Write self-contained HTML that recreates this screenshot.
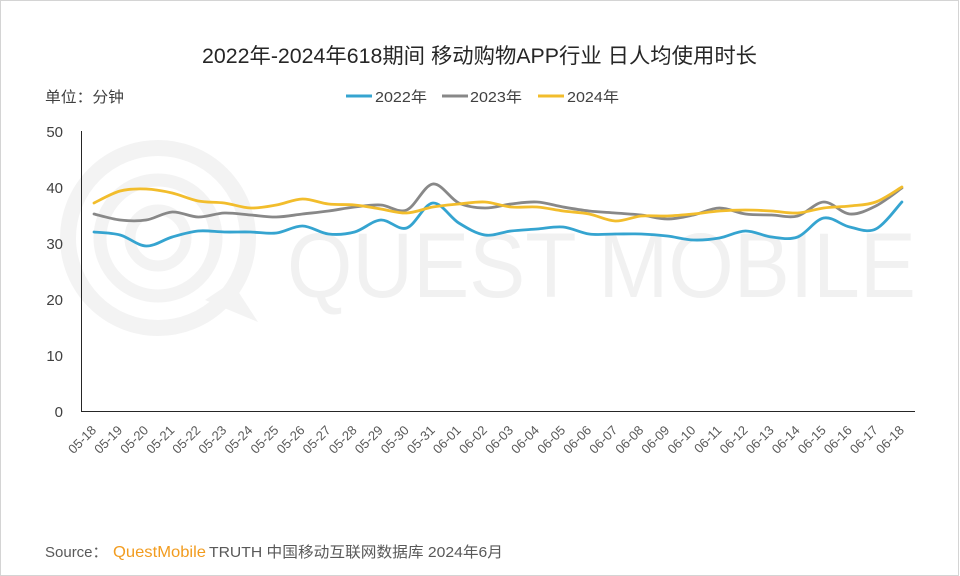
<!DOCTYPE html>
<html>
<head>
<meta charset="utf-8">
<style>
  html, body { margin: 0; padding: 0; background: #ffffff; }
  svg { display: block; }
  text { font-family: "Liberation Sans", "Noto Sans CJK SC", sans-serif; }
</style>
</head>
<body>
<svg id="chart" width="960" height="576" viewBox="0 0 960 576" xmlns="http://www.w3.org/2000/svg">
  <rect x="0" y="0" width="960" height="576" fill="#ffffff"/>
  <rect x="0.5" y="0.5" width="958" height="575" fill="none" stroke="#d4d4d4" stroke-width="1"/>

  <!-- watermark logo -->
  <g fill="none" stroke="#f3f3f3">
    <circle cx="158" cy="238" r="90" stroke-width="16"/>
    <circle cx="158" cy="238" r="58" stroke-width="13"/>
    <circle cx="158" cy="238" r="28" stroke-width="11"/>
  </g>
  <path d="M205 300 L258 322 L232 282 Z" fill="#f3f3f3"/>
  <!-- watermark text -->
  <text x="287" y="297" font-size="92" fill="#f1f1f1" textLength="629" lengthAdjust="spacingAndGlyphs">QUEST MOBILE</text>

  <!-- title -->
  <text x="202" y="63" font-size="21" fill="#262626" textLength="555" lengthAdjust="spacingAndGlyphs">2022年-2024年618期间 移动购物APP行业 日人均使用时长</text>

  <!-- unit -->
  <text x="45" y="102" font-size="15" fill="#404040" textLength="79" lengthAdjust="spacingAndGlyphs">单位：分钟</text>

  <!-- legend -->
  <line x1="346" y1="96" x2="372" y2="96" stroke="#35a4d0" stroke-width="3"/>
  <text x="375" y="102" font-size="15" fill="#404040" textLength="52" lengthAdjust="spacingAndGlyphs">2022年</text>
  <line x1="442" y1="96" x2="468" y2="96" stroke="#888888" stroke-width="3"/>
  <text x="470" y="102" font-size="15" fill="#404040" textLength="52" lengthAdjust="spacingAndGlyphs">2023年</text>
  <line x1="538" y1="96" x2="564" y2="96" stroke="#f2bd2c" stroke-width="3"/>
  <text x="567" y="102" font-size="15" fill="#404040" textLength="52" lengthAdjust="spacingAndGlyphs">2024年</text>

  <!-- y tick labels -->
  <g font-size="15" fill="#404040" text-anchor="end">
    <text x="63" y="137">50</text>
    <text x="63" y="193">40</text>
    <text x="63" y="249">30</text>
    <text x="63" y="305">20</text>
    <text x="63" y="361">10</text>
    <text x="63" y="417">0</text>
  </g>

  <!-- axes -->
  <line x1="81.5" y1="131" x2="81.5" y2="411.5" stroke="#262626" stroke-width="1"/>
  <line x1="81" y1="411.5" x2="915" y2="411.5" stroke="#262626" stroke-width="1"/>

  <!-- series (polyline fallback; smoothed by script) -->
  <g fill="none" stroke-width="2.8" stroke-linejoin="round" stroke-linecap="round">
    <polyline class="s" stroke="#888888" points="94.0,214 120.1,220 146.1,220 172.2,212 198.2,217 224.3,213 250.4,215 276.4,217 302.5,214 328.5,211 354.6,207 380.7,205 406.7,210 432.8,184 458.8,203 484.9,208 511.0,204 537.0,202 563.1,207 589.1,211 615.2,213 641.3,215 667.3,219 693.4,215 719.4,208 745.5,214 771.6,215 797.6,216 823.7,202 849.7,214 875.8,206 901.9,188"/>
    <polyline class="s" stroke="#35a4d0" points="94.0,232 120.1,235 146.1,246 172.2,237 198.2,231 224.3,232 250.4,232 276.4,233 302.5,226 328.5,234 354.6,232 380.7,220 406.7,228 432.8,203 458.8,223 484.9,235 511.0,231 537.0,229 563.1,227 589.1,234 615.2,234 641.3,234 667.3,236 693.4,240 719.4,238 745.5,231 771.6,237 797.6,237 823.7,218 849.7,227 875.8,229 901.9,202"/>
    <polyline class="s" stroke="#f2bd2c" points="94.0,203 120.1,191 146.1,189 172.2,193 198.2,201 224.3,203 250.4,208 276.4,205 302.5,199 328.5,204 354.6,205 380.7,209 406.7,213 432.8,207 458.8,204 484.9,202 511.0,207 537.0,207 563.1,211 589.1,214 615.2,221 641.3,216 667.3,216 693.4,214 719.4,211 745.5,210 771.6,211 797.6,213 823.7,208 849.7,206 875.8,202 901.9,187"/>
  </g>

  <!-- x tick labels -->
  <g font-size="13" fill="#595959" text-anchor="end">
    <text x="97.0" y="431" transform="rotate(-45 97.0 431)">05-18</text>
    <text x="123.1" y="431" transform="rotate(-45 123.1 431)">05-19</text>
    <text x="149.1" y="431" transform="rotate(-45 149.1 431)">05-20</text>
    <text x="175.2" y="431" transform="rotate(-45 175.2 431)">05-21</text>
    <text x="201.2" y="431" transform="rotate(-45 201.2 431)">05-22</text>
    <text x="227.3" y="431" transform="rotate(-45 227.3 431)">05-23</text>
    <text x="253.4" y="431" transform="rotate(-45 253.4 431)">05-24</text>
    <text x="279.4" y="431" transform="rotate(-45 279.4 431)">05-25</text>
    <text x="305.5" y="431" transform="rotate(-45 305.5 431)">05-26</text>
    <text x="331.5" y="431" transform="rotate(-45 331.5 431)">05-27</text>
    <text x="357.6" y="431" transform="rotate(-45 357.6 431)">05-28</text>
    <text x="383.7" y="431" transform="rotate(-45 383.7 431)">05-29</text>
    <text x="409.7" y="431" transform="rotate(-45 409.7 431)">05-30</text>
    <text x="435.8" y="431" transform="rotate(-45 435.8 431)">05-31</text>
    <text x="461.8" y="431" transform="rotate(-45 461.8 431)">06-01</text>
    <text x="487.9" y="431" transform="rotate(-45 487.9 431)">06-02</text>
    <text x="514.0" y="431" transform="rotate(-45 514.0 431)">06-03</text>
    <text x="540.0" y="431" transform="rotate(-45 540.0 431)">06-04</text>
    <text x="566.1" y="431" transform="rotate(-45 566.1 431)">06-05</text>
    <text x="592.1" y="431" transform="rotate(-45 592.1 431)">06-06</text>
    <text x="618.2" y="431" transform="rotate(-45 618.2 431)">06-07</text>
    <text x="644.3" y="431" transform="rotate(-45 644.3 431)">06-08</text>
    <text x="670.3" y="431" transform="rotate(-45 670.3 431)">06-09</text>
    <text x="696.4" y="431" transform="rotate(-45 696.4 431)">06-10</text>
    <text x="722.4" y="431" transform="rotate(-45 722.4 431)">06-11</text>
    <text x="748.5" y="431" transform="rotate(-45 748.5 431)">06-12</text>
    <text x="774.6" y="431" transform="rotate(-45 774.6 431)">06-13</text>
    <text x="800.6" y="431" transform="rotate(-45 800.6 431)">06-14</text>
    <text x="826.7" y="431" transform="rotate(-45 826.7 431)">06-15</text>
    <text x="852.7" y="431" transform="rotate(-45 852.7 431)">06-16</text>
    <text x="878.8" y="431" transform="rotate(-45 878.8 431)">06-17</text>
    <text x="904.9" y="431" transform="rotate(-45 904.9 431)">06-18</text>
  </g>

  <!-- source -->
  <text x="45" y="557" font-size="15" fill="#595959">Source：</text>
  <text x="113" y="557" font-size="16" fill="#f29c1f" textLength="93" lengthAdjust="spacingAndGlyphs">QuestMobile</text>
  <text x="209" y="557" font-size="15" fill="#595959" textLength="294" lengthAdjust="spacingAndGlyphs">TRUTH 中国移动互联网数据库 2024年6月</text>
</svg>
<script>
(function(){
  var svgNS = "http://www.w3.org/2000/svg";
  var lines = document.querySelectorAll("polyline.s");
  for (var k = 0; k < lines.length; k++) {
    var pl = lines[k];
    var pts = pl.getAttribute("points").trim().split(/\s+/).map(function(s){
      var a = s.split(","); return [parseFloat(a[0]), parseFloat(a[1])];
    });
    var d = "M" + pts[0][0] + " " + pts[0][1];
    for (var i = 0; i < pts.length - 1; i++) {
      var p0 = pts[i > 0 ? i - 1 : i];
      var p1 = pts[i];
      var p2 = pts[i + 1];
      var p3 = pts[i + 2 < pts.length ? i + 2 : i + 1];
      var c1x = p1[0] + (p2[0] - p0[0]) / 6;
      var c1y = p1[1] + (p2[1] - p0[1]) / 6;
      var c2x = p2[0] - (p3[0] - p1[0]) / 6;
      var c2y = p2[1] - (p3[1] - p1[1]) / 6;
      d += " C" + c1x.toFixed(2) + " " + c1y.toFixed(2) + " " + c2x.toFixed(2) + " " + c2y.toFixed(2) + " " + p2[0] + " " + p2[1];
    }
    var path = document.createElementNS(svgNS, "path");
    path.setAttribute("d", d);
    path.setAttribute("stroke", pl.getAttribute("stroke"));
    pl.parentNode.replaceChild(path, pl);
  }
})();
</script>
</body>
</html>
